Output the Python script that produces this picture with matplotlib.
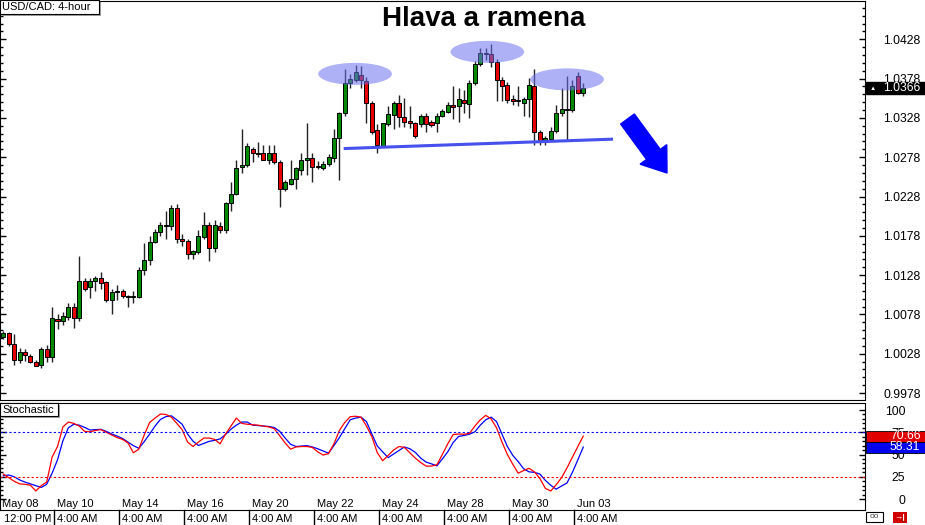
import numpy as np
import matplotlib
matplotlib.use('Agg')
import matplotlib.pyplot as plt
from matplotlib.patches import Ellipse, Rectangle, FancyArrow
from matplotlib.transforms import Affine2D, blended_transform_factory
from matplotlib.ticker import FixedLocator, FormatStrFormatter

plt.rcParams['font.family'] = ['Liberation Sans', 'DejaVu Sans']

# USD/CAD 4-hour candles
opens = [1.0049, 1.0054, 1.0041, 1.0020, 1.0030, 1.0025, 1.0018, 1.0014, 1.0034, 1.0024, 1.0072, 1.0070,
         1.0075, 1.0088, 1.0073, 1.0121, 1.0113, 1.0120, 1.0125, 1.0119, 1.0096, 1.0106, 1.0108, 1.0100,
         1.0100, 1.0100, 1.0134, 1.0147, 1.0170, 1.0183, 1.0190, 1.0190, 1.0214, 1.0174, 1.0171, 1.0155,
         1.0158, 1.0177, 1.0192, 1.0163, 1.0191, 1.0185, 1.0220, 1.0231, 1.0265, 1.0268, 1.0288, 1.0282,
         1.0283, 1.0275, 1.0283, 1.0272, 1.0237, 1.0244, 1.0250, 1.0262, 1.0274, 1.0277, 1.0267, 1.0264,
         1.0270, 1.0277, 1.0303, 1.0334, 1.0373, 1.0376, 1.0383, 1.0375, 1.0347, 1.0313, 1.0292, 1.0320,
         1.0332, 1.0347, 1.0329, 1.0324, 1.0321, 1.0320, 1.0330, 1.0323, 1.0321, 1.0330, 1.0336, 1.0345,
         1.0343, 1.0351, 1.0346, 1.0372, 1.0396, 1.0409, 1.0409, 1.0399, 1.0376, 1.0370, 1.0352, 1.0349,
         1.0347, 1.0352, 1.0369, 1.0310, 1.0300, 1.0301, 1.0311, 1.0334, 1.0338, 1.0338, 1.0381, 1.0360]
highs = [1.0057, 1.0056, 1.0053, 1.0035, 1.0034, 1.0028, 1.0020, 1.0036, 1.0039, 1.0088, 1.0079, 1.0081,
         1.0093, 1.0093, 1.0152, 1.0124, 1.0125, 1.0127, 1.0132, 1.0121, 1.0111, 1.0115, 1.0111, 1.0103,
         1.0108, 1.0139, 1.0169, 1.0178, 1.0187, 1.0195, 1.0210, 1.0217, 1.0219, 1.0180, 1.0174, 1.0160,
         1.0185, 1.0208, 1.0195, 1.0198, 1.0195, 1.0221, 1.0247, 1.0274, 1.0314, 1.0296, 1.0291, 1.0297,
         1.0294, 1.0294, 1.0294, 1.0274, 1.0249, 1.0274, 1.0266, 1.0284, 1.0322, 1.0283, 1.0273, 1.0273,
         1.0282, 1.0314, 1.0336, 1.0390, 1.0384, 1.0395, 1.0394, 1.0380, 1.0349, 1.0320, 1.0322, 1.0343,
         1.0350, 1.0357, 1.0353, 1.0343, 1.0323, 1.0333, 1.0334, 1.0325, 1.0334, 1.0339, 1.0348, 1.0368,
         1.0366, 1.0364, 1.0376, 1.0400, 1.0417, 1.0417, 1.0422, 1.0403, 1.0380, 1.0374, 1.0357, 1.0369,
         1.0355, 1.0379, 1.0390, 1.0313, 1.0305, 1.0317, 1.0344, 1.0366, 1.0381, 1.0376, 1.0386, 1.0372]
lows = [1.0047, 1.0038, 1.0014, 1.0016, 1.0019, 1.0016, 1.0012, 1.0010, 1.0017, 1.0017, 1.0060, 1.0065,
        1.0071, 1.0061, 1.0070, 1.0108, 1.0099, 1.0108, 1.0111, 1.0094, 1.0079, 1.0096, 1.0099, 1.0087,
        1.0092, 1.0099, 1.0128, 1.0141, 1.0169, 1.0178, 1.0174, 1.0185, 1.0169, 1.0165, 1.0149, 1.0149,
        1.0155, 1.0174, 1.0146, 1.0157, 1.0181, 1.0182, 1.0209, 1.0230, 1.0258, 1.0265, 1.0272, 1.0278,
        1.0274, 1.0270, 1.0270, 1.0215, 1.0235, 1.0243, 1.0238, 1.0255, 1.0255, 1.0246, 1.0263, 1.0262,
        1.0267, 1.0272, 1.0249, 1.0330, 1.0366, 1.0374, 1.0366, 1.0322, 1.0307, 1.0284, 1.0291, 1.0318,
        1.0314, 1.0317, 1.0317, 1.0315, 1.0302, 1.0317, 1.0310, 1.0317, 1.0310, 1.0329, 1.0334, 1.0326,
        1.0323, 1.0334, 1.0328, 1.0370, 1.0394, 1.0402, 1.0393, 1.0349, 1.0350, 1.0347, 1.0344, 1.0343,
        1.0330, 1.0329, 1.0294, 1.0294, 1.0294, 1.0300, 1.0309, 1.0330, 1.0300, 1.0336, 1.0358, 1.0356]
closes = [1.0054, 1.0041, 1.0020, 1.0030, 1.0026, 1.0018, 1.0013, 1.0034, 1.0024, 1.0073, 1.0070, 1.0076,
          1.0088, 1.0073, 1.0121, 1.0110, 1.0120, 1.0125, 1.0118, 1.0096, 1.0107, 1.0108, 1.0101, 1.0101,
          1.0101, 1.0134, 1.0147, 1.0170, 1.0183, 1.0192, 1.0192, 1.0214, 1.0174, 1.0171, 1.0155, 1.0159,
          1.0178, 1.0192, 1.0163, 1.0192, 1.0185, 1.0220, 1.0231, 1.0264, 1.0268, 1.0292, 1.0284, 1.0284,
          1.0275, 1.0283, 1.0272, 1.0237, 1.0246, 1.0250, 1.0264, 1.0275, 1.0277, 1.0266, 1.0265, 1.0270,
          1.0278, 1.0303, 1.0334, 1.0372, 1.0377, 1.0386, 1.0376, 1.0347, 1.0310, 1.0294, 1.0321, 1.0333,
          1.0347, 1.0329, 1.0323, 1.0321, 1.0305, 1.0330, 1.0320, 1.0319, 1.0330, 1.0337, 1.0344, 1.0342,
          1.0352, 1.0347, 1.0372, 1.0397, 1.0410, 1.0410, 1.0399, 1.0376, 1.0369, 1.0351, 1.0349, 1.0350,
          1.0352, 1.0370, 1.0310, 1.0299, 1.0303, 1.0311, 1.0334, 1.0339, 1.0339, 1.0368, 1.0360, 1.0366]

# stochastic %K (red) and %D (blue)
stoch_k = [28, 24, 20, 17, 16.5, 15.5, 9, 15, 19, 47, 59, 81,
           86.5, 85, 82, 76, 75.5, 77, 78, 75, 72, 69, 67, 63,
           52, 56, 72, 86, 91, 95.5, 95, 92, 85, 78, 64, 59,
           64, 68.5, 68.5, 67, 62, 73, 82, 91, 85, 84, 83.5, 83,
           82, 81, 79, 71, 63, 56, 58.5, 59, 59, 58, 53, 49.4,
           51, 62, 77, 86, 92.5, 93, 92, 82, 70, 52, 43, 49,
           55, 59, 58, 52, 46, 41, 37, 37, 38.5, 50, 62, 72.5,
           73, 72.8, 73.7, 82, 89, 94, 90, 80, 64, 50, 39, 29,
           32, 34.5, 30.5, 23, 12, 9, 16, 24, 35, 47, 59, 70.66]
stoch_d = [26, 27, 25, 21.5, 19, 17, 15, 13, 16.5, 29, 44, 65.5,
           80, 84, 83, 80.5, 77.5, 78, 78.3, 76, 73, 70.7, 68, 64,
           60, 57, 64.5, 73, 82, 89.5, 92.6, 93.5, 89, 84, 73, 65,
           60.2, 62.5, 64.8, 66, 67.5, 72.5, 78.5, 83, 86.5, 86.5, 83, 82.5,
           82, 81.5, 80.3, 76, 68.5, 61.5, 59, 59.5, 60, 58.5, 56.5, 54,
           51.5, 60, 69, 79, 89, 91, 92, 87, 73, 59.5, 53, 46.5,
           50.5, 54.5, 58.5, 56.5, 52.5, 46, 41.5, 39.5, 37.3, 45, 53, 63.5,
           70.3, 71.4, 72.8, 75.5, 83, 89, 92, 87, 73, 59, 49, 42,
           34, 30.5, 30, 28, 21, 15.5, 11, 14.7, 18, 30, 44, 58.31]

date_idx = [0, 10, 22, 34, 46, 58, 70, 82, 94, 106]
date_top = ['May 08', 'May 10', 'May 14', 'May 16', 'May 20', 'May 22', 'May 24', 'May 28', 'May 30', 'Jun 03']
date_bottom = ['12:00 PM', '4:00 AM', '4:00 AM', '4:00 AM', '4:00 AM', '4:00 AM', '4:00 AM', '4:00 AM', '4:00 AM', '4:00 AM']
price_ticks = [0.9978, 1.0028, 1.0078, 1.0128, 1.0178, 1.0228, 1.0278, 1.0328, 1.0378, 1.0428]
stoch_ticks = [0, 25, 50, 75, 100]

W, H = 925, 525
fig = plt.figure(figsize=(W / 100, H / 100), dpi=100)
# pixel helper (origin top-left) for chrome pieces
px = Affine2D().scale(1 / W, -1 / H).translate(0, 1) + fig.transFigure

ax = fig.add_axes([0, 1 - 400 / H, 865 / W, 399 / H])
ax_st = fig.add_axes([0, 1 - 510 / H, 865 / W, 107 / H])

o = np.array(opens); c = np.array(closes)
hi = np.array(highs); lo = np.array(lows)
x = np.arange(len(o))
up = c >= o
body_lo = np.minimum(o, c)
body_h = np.maximum(np.abs(c - o), 0.00012)

ax.vlines(x, lo, hi, color='#222222', lw=1.0, zorder=2)
ax.bar(x[up], body_h[up], bottom=body_lo[up], width=0.74, color='#008a00',
       edgecolor='black', linewidth=0.7, zorder=3)
ax.bar(x[~up], body_h[~up], bottom=body_lo[~up], width=0.74, color='#e60000',
       edgecolor='black', linewidth=0.7, zorder=3)

# head & shoulders markup
for cx, cy in [(64.9, 1.0384), (89.3, 1.0412), (104.0, 1.0377)]:
    ax.add_patch(Ellipse((cx, cy), 13.6, 0.0028, facecolor='#6d71f0', alpha=0.55,
                         edgecolor='none', zorder=4))
ax.plot([62.8, 112.5], [1.0289, 1.0301], color='#4650ec', lw=2.2, zorder=4,
        solid_capstyle='butt')
fig.patches.append(FancyArrow(627.5, 119, 39.5, 54, width=17, head_width=33, head_length=23,
                              length_includes_head=True, color='#0000ff', transform=px))

ax.set_xlim(-0.609, 158.98)
ax.set_ylim(0.99692, 1.04767)
ax.set_xticks([])
ax.yaxis.set_major_locator(FixedLocator(price_ticks))
ax.yaxis.set_minor_locator(FixedLocator(np.arange(0.9968, 1.0480, 0.001)))
ax.yaxis.set_major_formatter(FormatStrFormatter('%.4f'))
ax.tick_params(axis='y', which='both', direction='in', left=True, right=True,
               labelleft=False, labelright=True, labelsize=8.7, pad=13)
ax.tick_params(axis='y', which='major', length=4.5, width=1)
ax.tick_params(axis='y', which='minor', length=2.5, width=1)

fig.text(484, 18.5, 'Hlava a ramena', transform=px, fontsize=20, fontweight='bold',
         ha='center', va='center')

# last price tag
bt = blended_transform_factory(px, ax.transData)
ax.add_patch(Rectangle((866, closes[-1] - 0.00073), 59, 0.00146, transform=bt,
                       facecolor='black', edgecolor='black', clip_on=False, zorder=6))
ax.text(870, closes[-1], '▲', transform=bt, color='white', fontsize=4.5, va='center',
        ha='left', clip_on=False, zorder=7)
ax.text(883, closes[-1], '%.4f' % closes[-1], transform=bt, color='white', fontsize=8.7,
        va='center', ha='left', clip_on=False, zorder=7)

# stochastic panel
ax_st.plot(x, stoch_d, color='#0000ff', lw=0.9)
ax_st.plot(x, stoch_k, color='#ff0000', lw=0.9)
ax_st.axhline(75, color='#0000ff', lw=0.8, dashes=(2, 2))
ax_st.axhline(25, color='#ff0000', lw=0.8, dashes=(2, 2))
ax_st.set_xlim(-0.609, 158.98)
ax_st.set_ylim(-12.36, 107.9)
ax_st.set_xticks([])
ax_st.yaxis.set_major_locator(FixedLocator(stoch_ticks))
ax_st.yaxis.set_minor_locator(FixedLocator(np.arange(0, 101, 5)))
ax_st.tick_params(axis='y', which='both', direction='in', left=True, right=True,
                  labelleft=False, labelright=True, labelsize=8.7, pad=29)
ax_st.tick_params(axis='y', which='major', length=4.5, width=1)
ax_st.tick_params(axis='y', which='minor', length=2.5, width=1)
for lbl in ax_st.get_yticklabels():
    lbl.set_horizontalalignment('right')

bs = blended_transform_factory(px, ax_st.transData)
for val, col in [(stoch_k[-1], '#e00000'), (stoch_d[-1], '#0000ee')]:
    ax_st.add_patch(Rectangle((866, val - 6.3), 59, 12.6, transform=bs, facecolor=col,
                              edgecolor='black', lw=0.6, clip_on=False, zorder=6))
    ax_st.text(890, val, '%.2f' % val, transform=bs, color='white', fontsize=8.7,
               va='center', ha='left', clip_on=False, zorder=7)

# time axis labels
bd = blended_transform_factory(ax_st.transData, px)
for i, t1, t2 in zip(date_idx, date_top, date_bottom):
    ax_st.text(i - 0.15, 504, t1, transform=bd, fontsize=8, ha='left', va='center', clip_on=False)
    ax_st.text(i - 0.15 if i else 0.1, 519.5, t2, transform=bd, fontsize=8, ha='left',
               va='center', clip_on=False)
    if i:
        ax_st.plot([i - 0.65, i - 0.65], [510, 525], transform=bd, color='black', lw=1,
                   clip_on=False)

# label boxes
for (bx, by, bw, bh, txt) in [(0, 0, 99, 14, 'USD/CAD: 4-hour'), (0, 403, 58, 13, 'Stochastic')]:
    fig.patches.append(Rectangle((bx + 2, by + 2), bw, bh, transform=px, facecolor='#a0a0a0',
                                 edgecolor='none', zorder=8))
    fig.patches.append(Rectangle((bx, by), bw, bh, transform=px, facecolor='white',
                                 edgecolor='black', lw=0.8, zorder=9))
    fig.text(bx + 2.5, by + bh / 2 + 0.5, txt, transform=px, fontsize=8, va='center',
             ha='left', zorder=10)

# little buttons at bottom right
fig.patches.append(Rectangle((866, 512), 17, 10, transform=px, facecolor='white',
                             edgecolor='black', lw=0.8))
fig.text(874.5, 517, 'oo', transform=px, fontsize=6, ha='center', va='center', color='#444444')
fig.patches.append(Rectangle((893, 512), 14, 11, transform=px, facecolor='#d00000',
                             edgecolor='none'))
fig.text(900, 517.5, '→|', transform=px, fontsize=6, ha='center', va='center', color='white',
         fontweight='bold')

fig.savefig('out.png', dpi=100)
